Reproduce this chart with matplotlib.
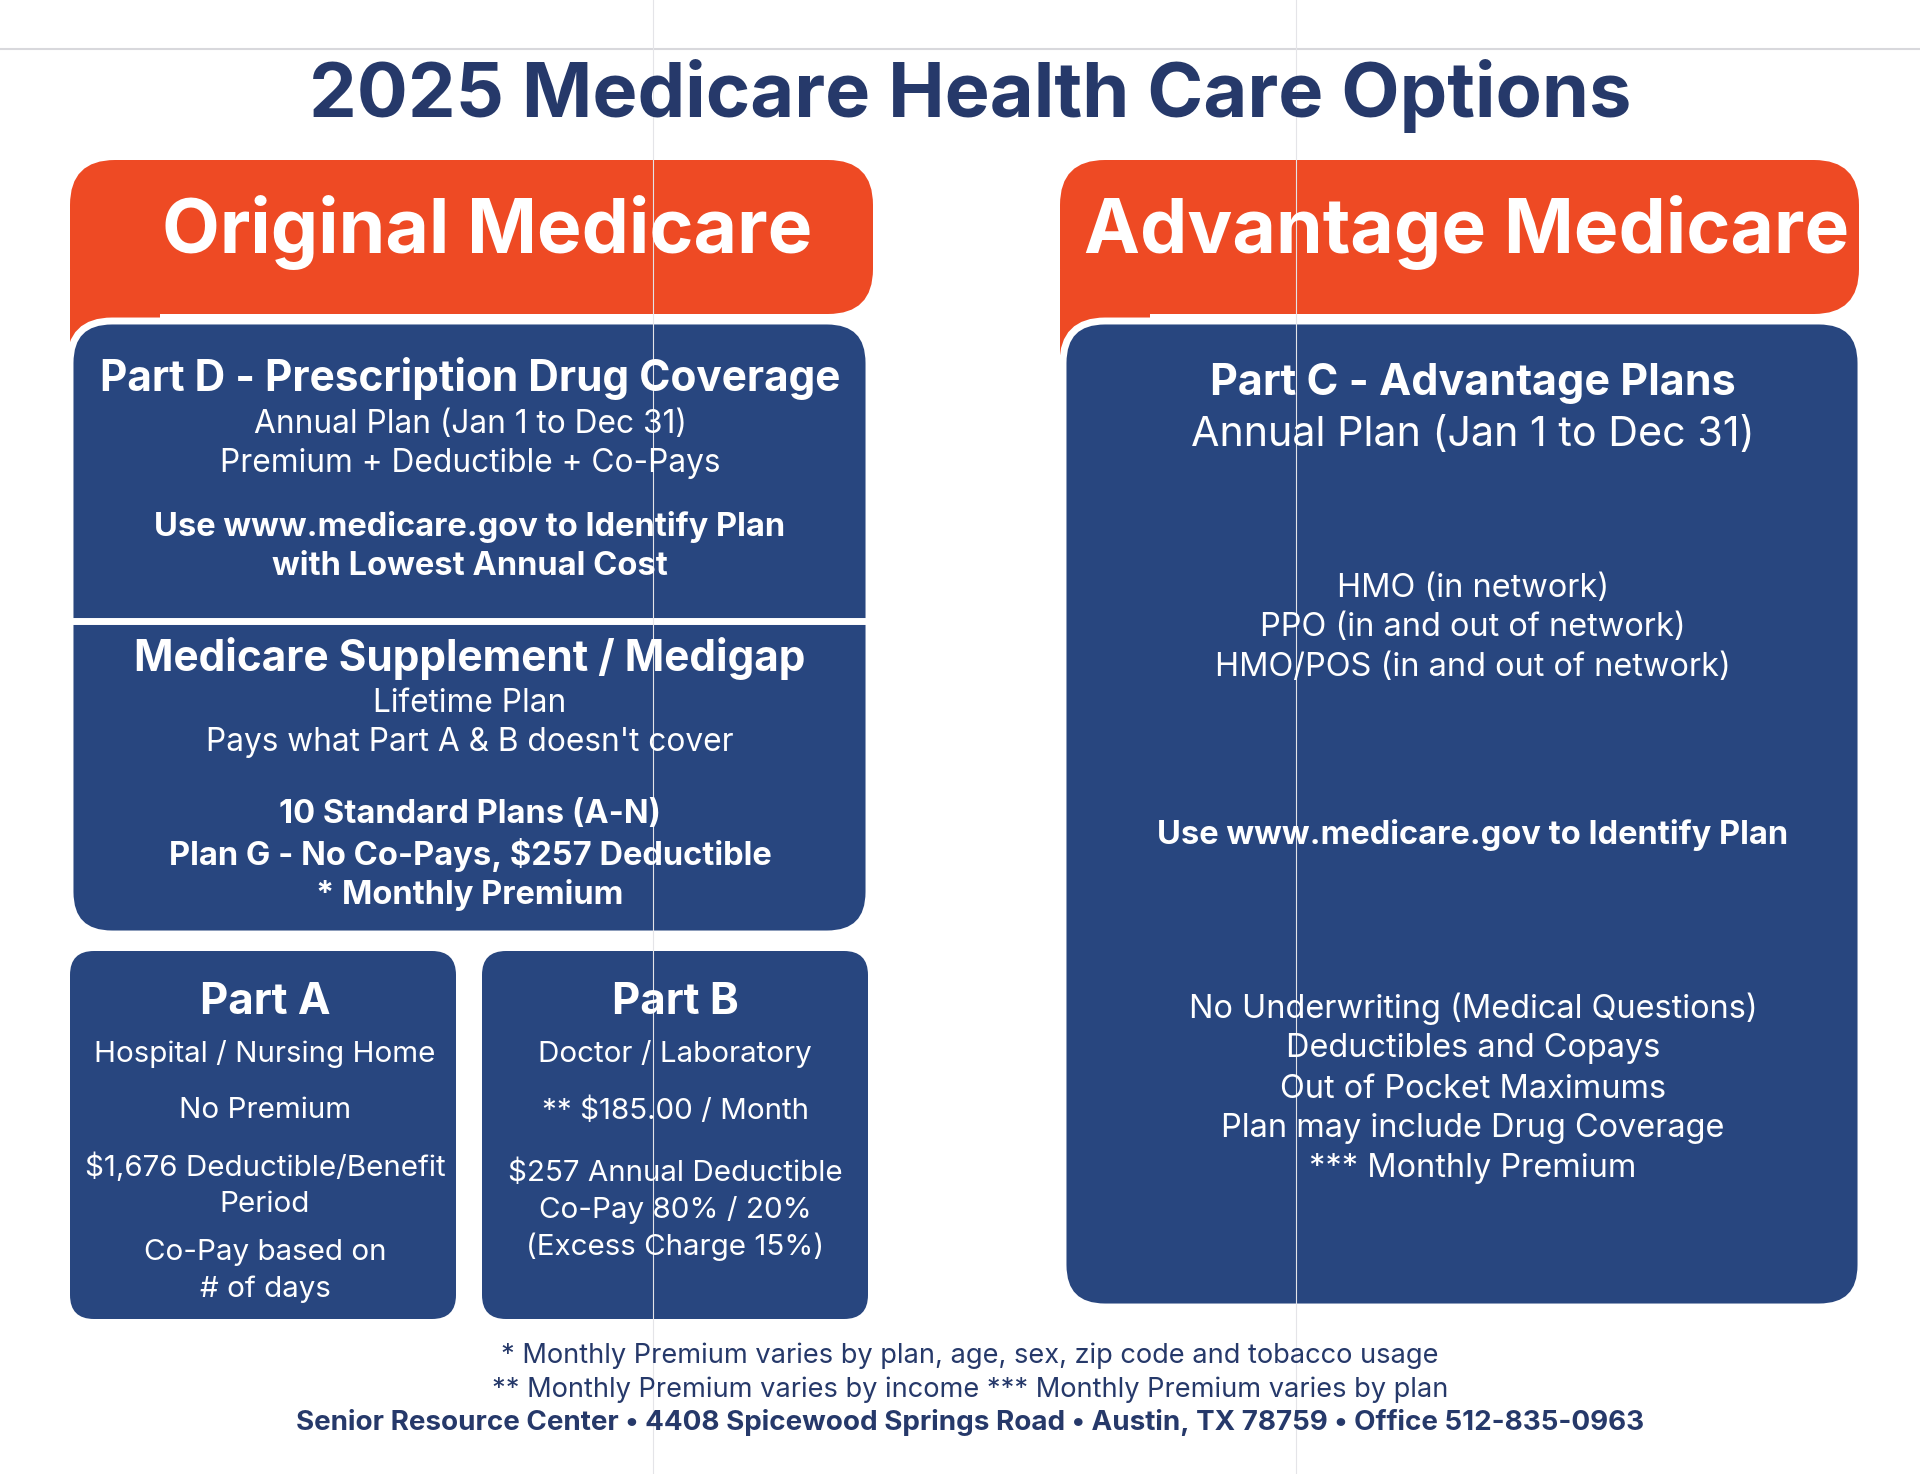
import matplotlib
matplotlib.use("Agg")
import matplotlib.pyplot as plt
from matplotlib.patches import FancyBboxPatch, Rectangle

# text content
title = "2025 Medicare Health Care Options"
headers = ["Original Medicare", "Advantage Medicare"]

part_d = ["Part D - Prescription Drug Coverage", "Annual Plan (Jan 1 to Dec 31)",
          "Premium + Deductible + Co-Pays", "Use www.medicare.gov to Identify Plan",
          "with Lowest Annual Cost"]
medigap = ["Medicare Supplement / Medigap", "Lifetime Plan", "Pays what Part A & B doesn't cover",
           "10 Standard Plans (A-N)", "Plan G - No Co-Pays, $257 Deductible", "* Monthly Premium"]
part_a = ["Part A", "Hospital / Nursing Home", "No Premium", "$1,676 Deductible/Benefit",
          "Period", "Co-Pay based on", "# of days"]
part_b = ["Part B", "Doctor / Laboratory", "** $185.00 / Month", "$257 Annual Deductible",
          "Co-Pay 80% / 20%", "(Excess Charge 15%)"]
part_c = ["Part C - Advantage Plans", "Annual Plan (Jan 1 to Dec 31)", "HMO (in network)",
          "PPO (in and out of network)", "HMO/POS (in and out of network)",
          "Use www.medicare.gov to Identify Plan", "No Underwriting (Medical Questions)",
          "Deductibles and Copays", "Out of Pocket Maximums", "Plan may include Drug Coverage",
          "*** Monthly Premium"]
footer = ["* Monthly Premium varies by plan, age, sex, zip code and tobacco usage",
          "** Monthly Premium varies by income *** Monthly Premium varies by plan",
          "Senior Resource Center \u2022 4408 Spicewood Springs Road \u2022 Austin, TX 78759 \u2022 Office 512-835-0963"]

ORANGE = "#ee4a24"
BLUE = "#28467f"
NAVY = "#26396a"
FONT = "Inter"

fig = plt.figure(figsize=(19.2, 14.74), dpi=100)
ax = fig.add_axes([0, 0, 1, 1])
ax.set_xlim(0, 1920)
ax.set_ylim(1474, 0)
ax.axis("off")

# scan artefacts: top rule and fold lines
ax.plot([0, 1920], [49, 49], color="#d8d8dc", lw=1.5)
for fx in (653, 1296):
    ax.plot([fx, fx], [0, 1474], color="#e4e4e8", lw=0.8, zorder=5)


def rbox(x0, y0, x1, y1, color, r=30, edge=None, lw=0, z=1):
    p = FancyBboxPatch((x0 + r, y0 + r), (x1 - x0) - 2 * r, (y1 - y0) - 2 * r,
                       boxstyle="round,pad=%d,rounding_size=%d" % (r, r),
                       fc=color, ec=edge if edge else color, lw=lw, zorder=z)
    ax.add_patch(p)


def txt(x, y, s, size, bold=False, color="white", z=6):
    ax.text(x, y, s, ha="center", va="center", fontsize=size, color=color,
            fontweight="bold" if bold else "normal", family=FONT, zorder=z)


# headers
for (x0, x1, bx0, bx1, by1) in [(70, 873, 70, 869, 934), (1060, 1859, 1063, 1861, 1307)]:
    rbox(x0, 160, x1, 314, ORANGE, r=45)
    ax.add_patch(Rectangle((x0, 270), 90, 85, fc=ORANGE, ec="none", zorder=1))
    rbox(bx0, 321, bx1, by1, BLUE, r=42, edge="white", lw=5, z=2)

txt(970, 96, title, 54.5, bold=True, color=NAVY)
txt(487, 232, headers[0], 54, bold=True)
txt(1467, 232, headers[1], 54, bold=True)

# divider between part D and medigap
ax.plot([70, 869], [621, 621], color="white", lw=5, zorder=3)

# part A / B boxes
rbox(70, 951, 456, 1319, BLUE, r=24, z=2)
rbox(482, 951, 868, 1319, BLUE, r=24, z=2)

# Part D
cx = 470
txt(cx, 378, part_d[0], 30.5, bold=True)
txt(cx, 424, part_d[1], 22.8)
txt(cx, 463, part_d[2], 22.8)
txt(cx, 527, part_d[3], 23.5, bold=True)
txt(cx, 566, part_d[4], 23.5, bold=True)

# Medigap
txt(cx, 658, medigap[0], 30.5, bold=True)
txt(cx, 703, medigap[1], 22.8)
txt(cx, 742, medigap[2], 22.8)
txt(cx, 814, medigap[3], 23.5, bold=True)
txt(cx, 855, medigap[4], 23.5, bold=True)
txt(cx, 895, medigap[5], 23.5, bold=True)

# Part A
ya = [1002, 1054, 1111, 1167, 1204, 1253, 1289]
for i, (y, s) in enumerate(zip(ya, part_a)):
    txt(265, y, s, 31.5 if i == 0 else 21.3, bold=(i == 0))

# Part B
yb = [1002, 1054, 1111, 1173, 1210, 1247]
for i, (y, s) in enumerate(zip(yb, part_b)):
    txt(675, y, s, 31.5 if i == 0 else 21.3, bold=(i == 0))

# Part C
yc = [383, 435, 588, 627, 667, 835, 1009, 1049, 1089, 1128, 1168]
for i, (y, s) in enumerate(zip(yc, part_c)):
    if i == 0:
        txt(1473, y, s, 31, bold=True)
    elif i == 1:
        txt(1473, y, s, 29.7)
    elif i == 5:
        txt(1473, y, s, 23.5, bold=True)
    else:
        txt(1473, y, s, 23.4)

# footer
txt(970, 1356, footer[0], 19.6, color=NAVY)
txt(970, 1390, footer[1], 19.6, color=NAVY)
txt(970, 1423, footer[2], 20, bold=True, color=NAVY)

fig.savefig("out.png", dpi=100, facecolor="white")
